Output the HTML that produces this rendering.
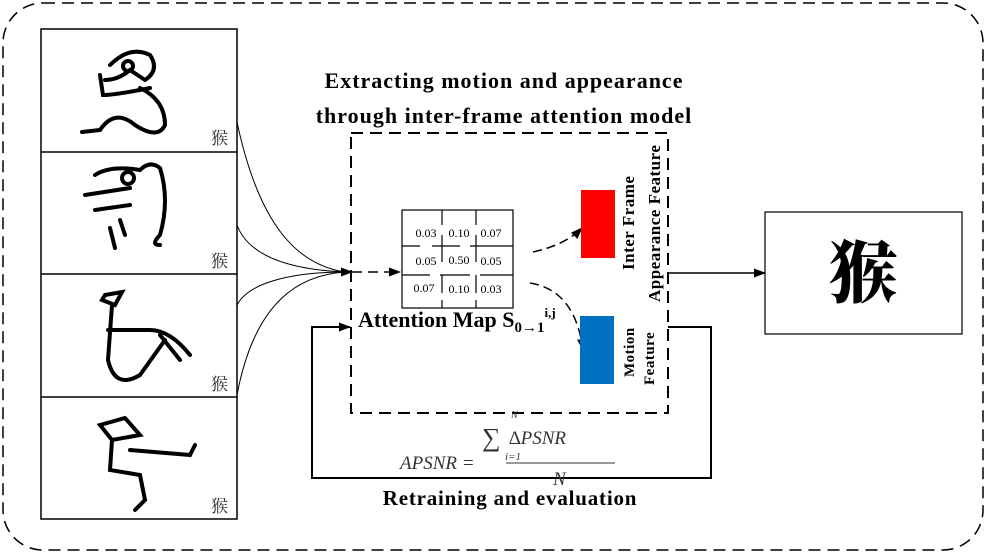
<!DOCTYPE html>
<html><head><meta charset="utf-8"><style>
body{margin:0;background:#fff;width:987px;height:555px;overflow:hidden}
svg{display:block}
text{font-family:"Liberation Serif","Noto Serif CJK SC",serif}
</style></head><body>
<svg width="987" height="555" viewBox="0 0 987 555" xmlns="http://www.w3.org/2000/svg">
<defs><marker id="a" markerWidth="12" markerHeight="9" refX="11" refY="4.5" orient="auto" markerUnits="userSpaceOnUse"><path d="M0,0L12,4.5L0,9z" fill="#000"/></marker></defs>
<rect x="3" y="3" width="980" height="547" rx="40" fill="none" stroke="#000" stroke-width="1.5" stroke-dasharray="12,7"/>
<g fill="none" stroke="#000" stroke-width="1.5">
<rect x="41" y="29" width="196" height="490"/>
<line x1="41" y1="152" x2="237" y2="152"/><line x1="41" y1="274" x2="237" y2="274"/><line x1="41" y1="397" x2="237" y2="397"/>
</g>
<g fill="none" stroke="#000" stroke-width="4" stroke-linecap="round">
<path d="M110,65 Q130,45 150,55 Q160,70 145,80 L130,70 Q118,80 105,80"/><circle cx="128" cy="66" r="5"/>
<path d="M140,88 Q165,100 165,125 Q158,140 135,125 Q115,108 100,130 L82,132"/><path d="M100,75 L103,95 Q115,95 150,88"/>
<path d="M95,175 Q110,165 140,170 Q150,160 160,168 Q170,200 160,235 Q150,245 160,245"/><circle cx="128" cy="178" r="6"/>
<path d="M85,195 L130,188 M95,210 L130,205 M110,228 L115,248 M120,220 L125,235"/>
<path d="M105,295 L122,292 L115,305 L102,300 Z M112,305 L108,360 Q115,390 140,375 L165,340 M108,330 L150,330 Q170,330 190,355 M160,335 L180,360"/>
<path d="M100,425 L125,418 L140,435 L112,440 Z M112,440 L110,470 L140,475 L145,500 L135,510 M130,450 L190,455 L195,445"/>
</g>
<g font-size="17" fill="#333">
<text x="211" y="144">猴</text><text x="211" y="267">猴</text><text x="211" y="390">猴</text><text x="211" y="512">猴</text>
</g>
<g fill="none" stroke="#000" stroke-width="1">
<path d="M237,122 C260,230 300,265 345,272"/>
<path d="M237,225 C250,260 300,270 345,272"/>
<path d="M237,305 C250,280 300,272 345,272"/>
<path d="M237,395 C255,300 300,275 345,272"/>
</g>
<line x1="340" y1="272" x2="352" y2="272" stroke="#000" stroke-width="1.5" marker-end="url(#a)"/>
<line x1="352" y1="272" x2="400" y2="272" stroke="#000" stroke-width="1.5" stroke-dasharray="10,6" marker-end="url(#a)"/>
<text x="504" y="88" font-size="22" font-weight="bold" letter-spacing="1" text-anchor="middle">Extracting motion and appearance</text>
<text x="504" y="123" font-size="22" font-weight="bold" letter-spacing="1" text-anchor="middle">through inter-frame attention model</text>
<rect x="351" y="133" width="317" height="280" fill="none" stroke="#000" stroke-width="2" stroke-dasharray="12,7"/>
<g stroke="#000" stroke-width="1.2" fill="none">
<rect x="402" y="210" width="111" height="98"/>
<path d="M442,210V225M476,210V225M442,235V262M476,235V262M442,275V293M476,275V293M442,300V308M476,300V308"/>
<path d="M402,246H420M432,246H460M470,246H513M402,275H430M440,275H470M480,275H513"/>
</g>
<g font-size="12" fill="#000" text-anchor="middle">
<text x="426" y="237">0.03</text><text x="459" y="237">0.10</text><text x="491" y="237">0.07</text>
<text x="426" y="265">0.05</text><text x="459" y="264">0.50</text><text x="491" y="265">0.05</text>
<text x="424" y="292">0.07</text><text x="459" y="293">0.10</text><text x="491" y="293">0.03</text>
</g>
<text x="358" y="327" font-size="22" font-weight="bold">Attention Map S<tspan font-size="15" dy="5">0→1</tspan><tspan font-size="13" dy="-15">i,j</tspan></text>
<path d="M533,252 Q565,245 582,228" fill="none" stroke="#000" stroke-width="1.5" stroke-dasharray="9,5" marker-end="url(#a)"/>
<path d="M530,283 Q575,290 583,350" fill="none" stroke="#000" stroke-width="1.5" stroke-dasharray="9,5" marker-end="url(#a)"/>
<rect x="581" y="190" width="34" height="68" fill="#ff0000"/>
<rect x="580" y="316" width="34" height="68" fill="#0070c0"/>
<g font-size="17" font-weight="bold" letter-spacing="0.5">
<text transform="translate(634,270) rotate(-90)">Inter Frame</text>
<text transform="translate(660,302) rotate(-90)">Appearance Feature</text>
<text transform="translate(634,377) rotate(-90)" font-size="15">Motion</text>
<text transform="translate(654,385) rotate(-90)" font-size="15">Feature</text>
</g>
<line x1="668" y1="273" x2="765" y2="273" stroke="#000" stroke-width="1.5" marker-end="url(#a)"/>
<rect x="765" y="212" width="197" height="122" fill="none" stroke="#000" stroke-width="1.2"/>
<text x="863" y="297" font-size="68" font-weight="900" text-anchor="middle" font-family="'Noto Sans CJK SC','WenQuanYi Zen Hei',sans-serif">猴</text>
<path d="M668,327H711V478H312V327H350" fill="none" stroke="#000" stroke-width="2" marker-end="url(#a)"/>
<g font-family="'DejaVu Serif',serif" font-style="italic" fill="#333">
<text x="400" y="469" font-size="19">APSNR =</text>
<text x="509" y="444" font-size="19">∆PSNR</text>
<text x="482" y="446" font-size="26" font-style="normal">∑</text>
<text x="511" y="418" font-size="10">N</text>
<text x="505" y="460" font-size="11">i=1</text>
<line x1="506" y1="463" x2="615" y2="463" stroke="#333" stroke-width="1"/>
<text x="553" y="485" font-size="19">N</text>
</g>
<text x="510" y="505" font-size="21" font-weight="bold" letter-spacing="0.8" text-anchor="middle">Retraining and evaluation</text>
</svg>
</body></html>
